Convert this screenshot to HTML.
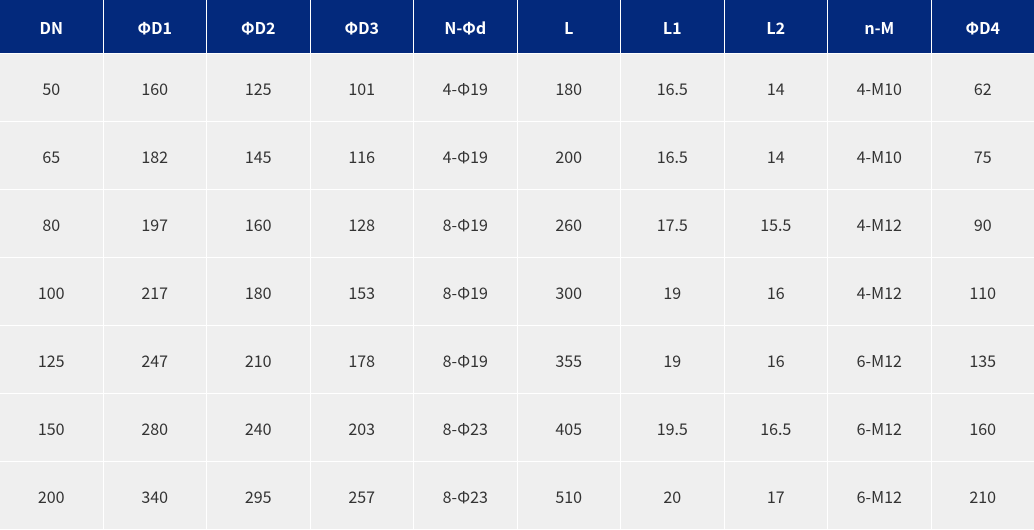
<!DOCTYPE html>
<html><head><meta charset="utf-8"><style>
html,body{margin:0;padding:0;background:#fff;}
.g{width:1034px;height:530px;display:grid;grid-template-columns:repeat(10,1fr);grid-template-rows:53px repeat(7,67px);gap:1px;background:#fff;font-family:"Liberation Sans","Noto Sans CJK SC",sans-serif;}
.g div{display:flex;align-items:center;justify-content:center;background:#efefef;color:#333;font-size:16px;font-family:"Noto Sans CJK SC","Liberation Sans",sans-serif;}
.g div.h{background:#03297c;color:#fff;font-weight:bold;}
</style></head><body>
<div class="g">
<div class="h">DN</div><div class="h">ΦD1</div><div class="h">ΦD2</div><div class="h">ΦD3</div><div class="h">N-Φd</div><div class="h">L</div><div class="h">L1</div><div class="h">L2</div><div class="h">n-M</div><div class="h">ΦD4</div>
<div>50</div><div>160</div><div>125</div><div>101</div><div>4-Φ19</div><div>180</div><div>16.5</div><div>14</div><div>4-M10</div><div>62</div>
<div>65</div><div>182</div><div>145</div><div>116</div><div>4-Φ19</div><div>200</div><div>16.5</div><div>14</div><div>4-M10</div><div>75</div>
<div>80</div><div>197</div><div>160</div><div>128</div><div>8-Φ19</div><div>260</div><div>17.5</div><div>15.5</div><div>4-M12</div><div>90</div>
<div>100</div><div>217</div><div>180</div><div>153</div><div>8-Φ19</div><div>300</div><div>19</div><div>16</div><div>4-M12</div><div>110</div>
<div>125</div><div>247</div><div>210</div><div>178</div><div>8-Φ19</div><div>355</div><div>19</div><div>16</div><div>6-M12</div><div>135</div>
<div>150</div><div>280</div><div>240</div><div>203</div><div>8-Φ23</div><div>405</div><div>19.5</div><div>16.5</div><div>6-M12</div><div>160</div>
<div>200</div><div>340</div><div>295</div><div>257</div><div>8-Φ23</div><div>510</div><div>20</div><div>17</div><div>6-M12</div><div>210</div>
</div>
</body></html>
